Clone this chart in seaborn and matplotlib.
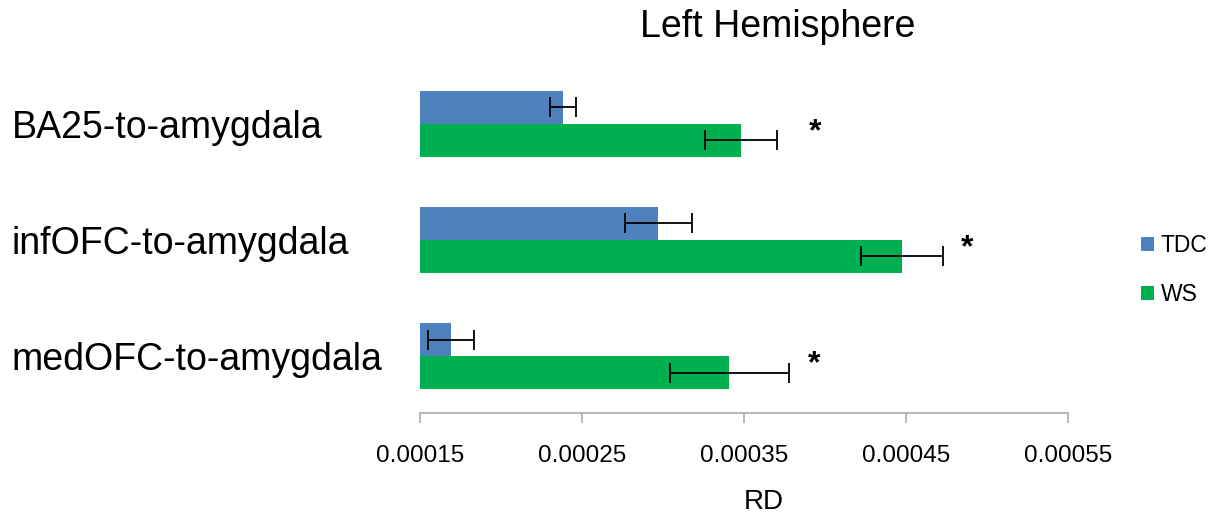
import matplotlib
matplotlib.use("Agg")
import matplotlib.pyplot as plt
from matplotlib.patches import Patch
from matplotlib.transforms import offset_copy
import seaborn as sns
import pandas as pd

# ---- data ----
tracts = ["BA25-to-amygdala", "infOFC-to-amygdala", "medOFC-to-amygdala"]
groups = ["TDC", "WS"]
tdc_values = [0.000238, 0.000297, 0.000169]
tdc_errors = [0.0000080, 0.0000207, 0.0000142]
ws_values = [0.000348, 0.0004475, 0.000341]
ws_errors = [0.0000222, 0.0000253, 0.0000367]
star_x = [0.000394, 0.000488, 0.000393]
x_ticks = [0.00015, 0.00025, 0.00035, 0.00045, 0.00055]
x_tick_labels = ["0.00015", "0.00025", "0.00035", "0.00045", "0.00055"]
colors = {"TDC": "#4F81BD", "WS": "#00B050"}

df = pd.DataFrame({
    "tract": tracts * 2,
    "group": ["TDC"] * 3 + ["WS"] * 3,
    "RD": tdc_values + ws_values,
})
errs = {"TDC": tdc_errors, "WS": ws_errors}

sns.set_style("white")
plt.rcParams["font.family"] = ["Liberation Sans", "DejaVu Sans"]
plt.rcParams["text.color"] = "black"
plt.rcParams["xtick.labelcolor"] = "black"
plt.rcParams["ytick.labelcolor"] = "black"

fig = plt.figure(figsize=(12.11, 5.17), dpi=100)
ax = fig.add_axes([420 / 1211, 104 / 517, 648 / 1211, 353.2 / 517])

sns.barplot(data=df, x="RD", y="tract", hue="group", order=tracts,
            hue_order=groups, palette=colors, orient="h", width=0.57,
            errorbar=None, saturation=1, legend=False, linewidth=0, ax=ax)

for cont, g in zip(ax.containers, groups):
    xs = [p.get_width() for p in cont.patches]
    ys = [p.get_y() + p.get_height() / 2 for p in cont.patches]
    ax.errorbar(xs, ys, xerr=errs[g], fmt="none", ecolor="black",
                elinewidth=1.3, capsize=7, capthick=1.3, zorder=5)

star_tr = offset_copy(ax.transData, fig=fig, x=0, y=-12, units="points")
for i, sx in enumerate(star_x):
    ax.text(sx, i, "*", ha="center", va="baseline", fontsize=23,
            fontweight="bold", color="black", transform=star_tr)

ax.set_xlim(0.00015, 0.00055)
ax.set_ylim(2.49, -0.55)
ax.set_xticks(x_ticks)
ax.set_xticklabels(x_tick_labels, fontsize=17.5)
ax.set_yticks(range(len(tracts)))
ax.set_yticklabels(tracts, fontsize=27, ha="left")
ax.tick_params(axis="y", length=0, pad=293.8)
ax.tick_params(axis="x", direction="out", length=7.2, width=1.1,
               color="#A6A6A6", pad=15.5, bottom=True)
ax.set_xlabel("")
ax.set_ylabel("")
for s in ["top", "right", "left"]:
    ax.spines[s].set_visible(False)
ax.spines["bottom"].set_color("#A6A6A6")
ax.spines["bottom"].set_linewidth(1.1)

fig.text(778 / 1211, 1 - 37 / 517, "Left Hemisphere", ha="center",
         va="baseline", fontsize=27)
fig.text(764 / 1211, 1 - 502 / 517, "RD", ha="center", va="center",
         fontsize=20)

handles = [Patch(facecolor=colors[g], edgecolor="none") for g in groups]
fig.legend(handles, groups, loc="center left",
           bbox_to_anchor=(1141 / 1211, 1 - 270 / 517), frameon=False,
           prop={"size": 16.5}, handlelength=0.57,
           handleheight=0.57, handletextpad=0.3, labelspacing=1.15,
           borderpad=0, borderaxespad=0)

fig.savefig("out.png", dpi=100, facecolor="white")
